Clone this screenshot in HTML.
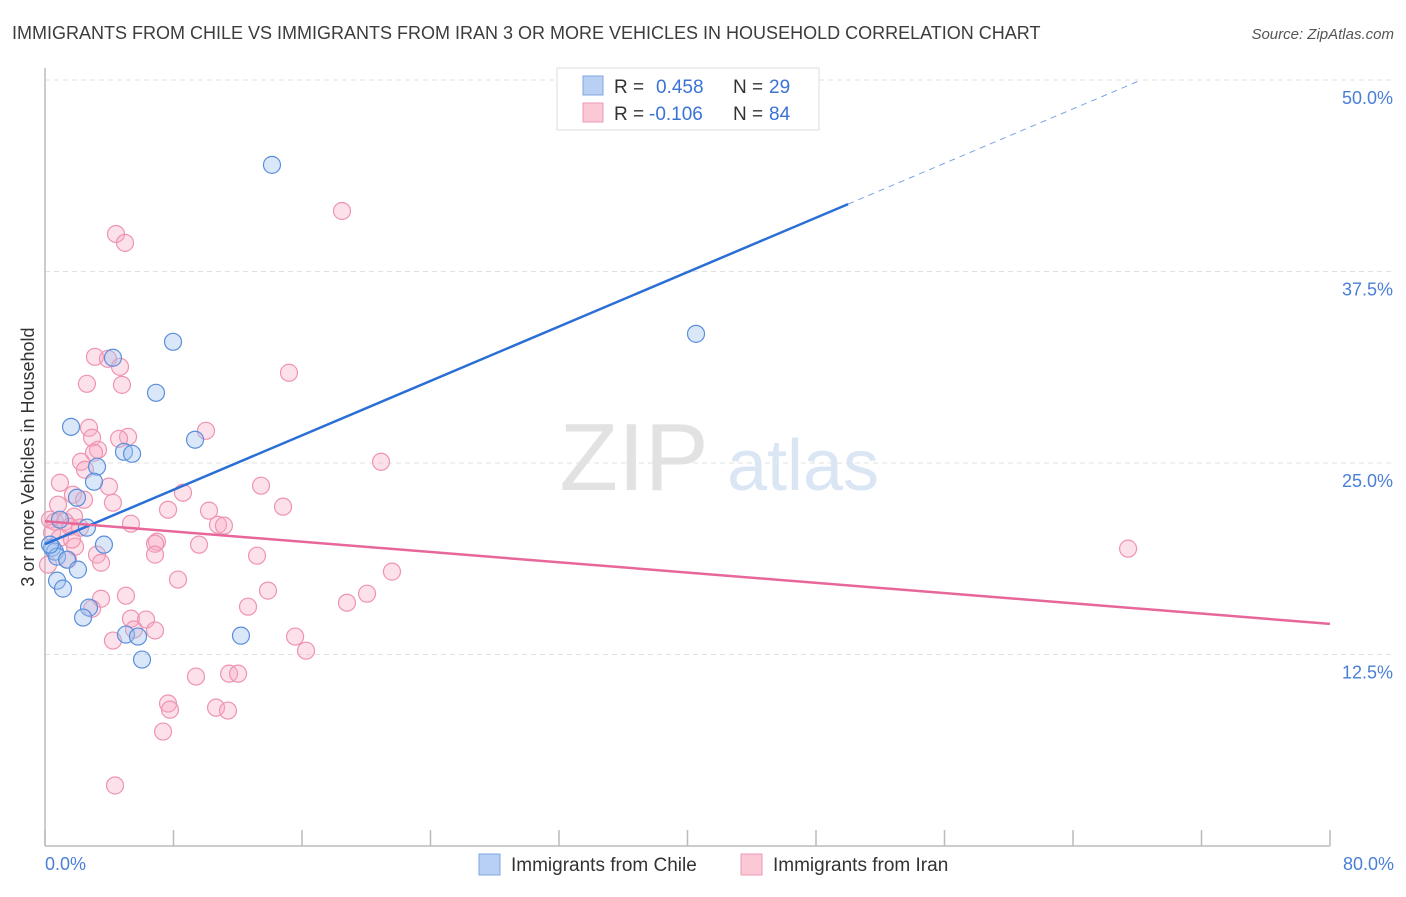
<!DOCTYPE html>
<html><head><meta charset="utf-8"><style>
body{margin:0;background:#fff;font-family:"Liberation Sans",sans-serif;}
svg text{font-family:"Liberation Sans",sans-serif;}
</style></head><body>
<svg id="chart" width="1406" height="892" xmlns="http://www.w3.org/2000/svg">
<text x="12" y="39" font-size="18" fill="#3c3c3c">IMMIGRANTS FROM CHILE VS IMMIGRANTS FROM IRAN 3 OR MORE VEHICLES IN HOUSEHOLD CORRELATION CHART</text>
<text x="1394" y="39" font-size="15" fill="#555" text-anchor="end" font-style="italic">Source: ZipAtlas.com</text>
<g id="grid"></g>
<g>
<text x="634" y="490" font-size="96" fill="#e2e2e2" text-anchor="middle" font-family="Liberation Serif, serif">ZIP</text>
<text x="803" y="490" font-size="72" fill="#dbe6f5" text-anchor="middle">atlas</text>
</g>
<line x1="45" y1="68" x2="45" y2="846" stroke="#bbb" stroke-width="1.5"/>
<line x1="45" y1="846" x2="1330" y2="846" stroke="#bbb" stroke-width="1.5"/>
<g id="ticks"></g>
<g id="pts"></g>
<g id="lines"></g>
<text transform="translate(34,457) rotate(-90)" font-size="18" fill="#333" text-anchor="middle">3 or more Vehicles in Household</text>
<text x="45" y="870" font-size="18" fill="#4a7fd6">0.0%</text>
<text x="1394" y="870" font-size="18" fill="#4a7fd6" text-anchor="end">80.0%</text>
<g>
<rect x="557" y="68" width="262" height="62" fill="#fff" stroke="#ddd"/>
<rect x="583" y="76" width="20" height="19" fill="#b8d0f4" stroke="#7fa6e0"/>
<rect x="583" y="103" width="20" height="19" fill="#fbc8d6" stroke="#ee9ab3"/>
<text x="614" y="93" font-size="19" fill="#333">R = </text><text x="656" y="93" font-size="19" fill="#3a72d6">0.458</text>
<text x="733" y="93" font-size="19" fill="#333">N = </text><text x="769" y="93" font-size="19" fill="#3a72d6">29</text>
<text x="614" y="120" font-size="19" fill="#333">R = </text><text x="649" y="120" font-size="19" fill="#3a72d6">-0.106</text>
<text x="733" y="120" font-size="19" fill="#333">N = </text><text x="769" y="120" font-size="19" fill="#3a72d6">84</text>
</g>
<g>
<rect x="479" y="854" width="21" height="21" fill="#b8d0f4" stroke="#7fa6e0"/>
<text x="511" y="871" font-size="19" fill="#333">Immigrants from Chile</text>
<rect x="741" y="854" width="21" height="21" fill="#fbc8d6" stroke="#ee9ab3"/>
<text x="773" y="871" font-size="19" fill="#333">Immigrants from Iran</text>
</g>
</svg>
<script>
const yTicks=[12.5,25,37.5,50];
const yTickLabels=["12.5%","25.0%","37.5%","50.0%"];
const chileX=[14.13,40.53,7.97,4.23,6.91,1.62,9.34,4.92,5.42,3.24,3.05,1.99,2.61,3.67,0.44,0.62,0.75,1.37,2.05,0.75,1.12,2.74,2.37,5.04,5.79,12.20,6.04,0.31,0.93];
const chileY=[44.46,33.43,32.91,31.87,29.58,27.36,26.52,25.73,25.60,24.76,23.78,22.73,20.78,19.67,19.47,19.21,18.89,18.69,18.04,17.32,16.80,15.56,14.91,13.80,13.67,13.73,12.17,19.67,21.3];
const iranX=[18.49,4.42,4.98,3.11,3.92,4.67,15.19,2.61,4.79,2.74,10.02,2.93,5.17,4.61,3.30,3.05,20.92,2.24,2.49,0.93,13.45,3.98,8.59,1.74,2.43,4.23,0.81,14.82,7.66,10.21,1.81,0.31,0.62,1.25,5.35,10.77,11.14,1.56,2.18,0.44,0.93,6.97,6.85,9.59,1.87,67.43,3.24,6.85,13.20,1.43,3.49,0.19,21.60,8.28,5.04,13.88,20.05,3.49,18.80,12.64,2.93,5.35,6.29,5.54,15.57,4.23,16.25,9.40,11.46,12.02,7.66,7.78,10.65,11.39,7.35,4.36,6.85,1.68];
const iranY=[41.45,39.95,39.37,31.93,31.80,31.28,30.89,30.17,30.10,27.30,27.10,26.65,26.71,26.58,25.86,25.67,25.08,25.08,24.56,23.71,23.52,23.46,23.06,22.93,22.60,22.41,22.28,22.15,21.95,21.89,21.50,21.3,21.17,21.17,21.04,20.97,20.91,20.84,20.78,20.45,20.12,19.86,19.73,19.67,19.54,19.41,19.02,19.02,18.95,18.69,18.49,18.36,17.91,17.39,16.34,16.67,16.47,16.14,15.88,15.62,15.49,14.84,14.78,14.13,13.67,13.41,12.75,11.06,11.25,11.25,9.30,8.90,9.03,8.84,7.47,3.95,14.07,20.0];
const chileTrend=[19.7,0.444];
const iranTrend=[21.2,-0.08375];
const NS="http://www.w3.org/2000/svg";
const sx=v=>45+v*1285/80;
const sy=v=>846-v*766/50;
function mk(t,a,p){const e=document.createElementNS(NS,t);for(const k in a)e.setAttribute(k,a[k]);p.appendChild(e);return e;}
const grid=document.getElementById('grid');
yTicks.forEach((t,i)=>{
 const l=mk('line',{x1:45,x2:1394,y1:sy(t),y2:sy(t),stroke:'#e0e0e0','stroke-dasharray':'5,4'},grid);
 
 
 const tx=mk('text',{x:1393,y:sy(t)+24,'font-size':18,fill:'#4a7fd6','text-anchor':'end'},grid);
 tx.textContent=yTickLabels[i];
 
 
});
const ticks=document.getElementById('ticks');
for(let i=0;i<=10;i++){const l=mk('line',{x1:sx(i*8),x2:sx(i*8),y1:830,y2:846,stroke:'#bbb','stroke-width':1.5},ticks);
 
 }
const pts=document.getElementById('pts');
iranX.forEach((x,i)=>{const c=mk('circle',{cx:sx(x),cy:sy(iranY[i]),r:8.5,fill:'rgba(248,170,195,0.35)',stroke:'#ee94b0','stroke-width':1.2},pts);
 
 });
chileX.forEach((x,i)=>{const c=mk('circle',{cx:sx(x),cy:sy(chileY[i]),r:8.5,fill:'rgba(160,195,240,0.4)',stroke:'#5b8fdc','stroke-width':1.2},pts);
 
 });
const lines=document.getElementById('lines');
const xEnd=50,xMax=(50-chileTrend[0])/chileTrend[1];
let l1=mk('line',{x1:sx(0),y1:sy(chileTrend[0]),x2:sx(xEnd),y2:sy(chileTrend[0]+chileTrend[1]*xEnd),stroke:'#2a6fd6','stroke-width':2.5},lines);


let l2=mk('line',{x1:sx(xEnd),y1:sy(chileTrend[0]+chileTrend[1]*xEnd),x2:sx(xMax),y2:sy(50),stroke:'#7aa4e0','stroke-width':1,'stroke-dasharray':'6,5'},lines);


let l3=mk('line',{x1:sx(0),y1:sy(iranTrend[0]),x2:sx(80),y2:sy(iranTrend[0]+iranTrend[1]*80),stroke:'#e8679a','stroke-width':2.5},lines);


</script>
</body></html>
